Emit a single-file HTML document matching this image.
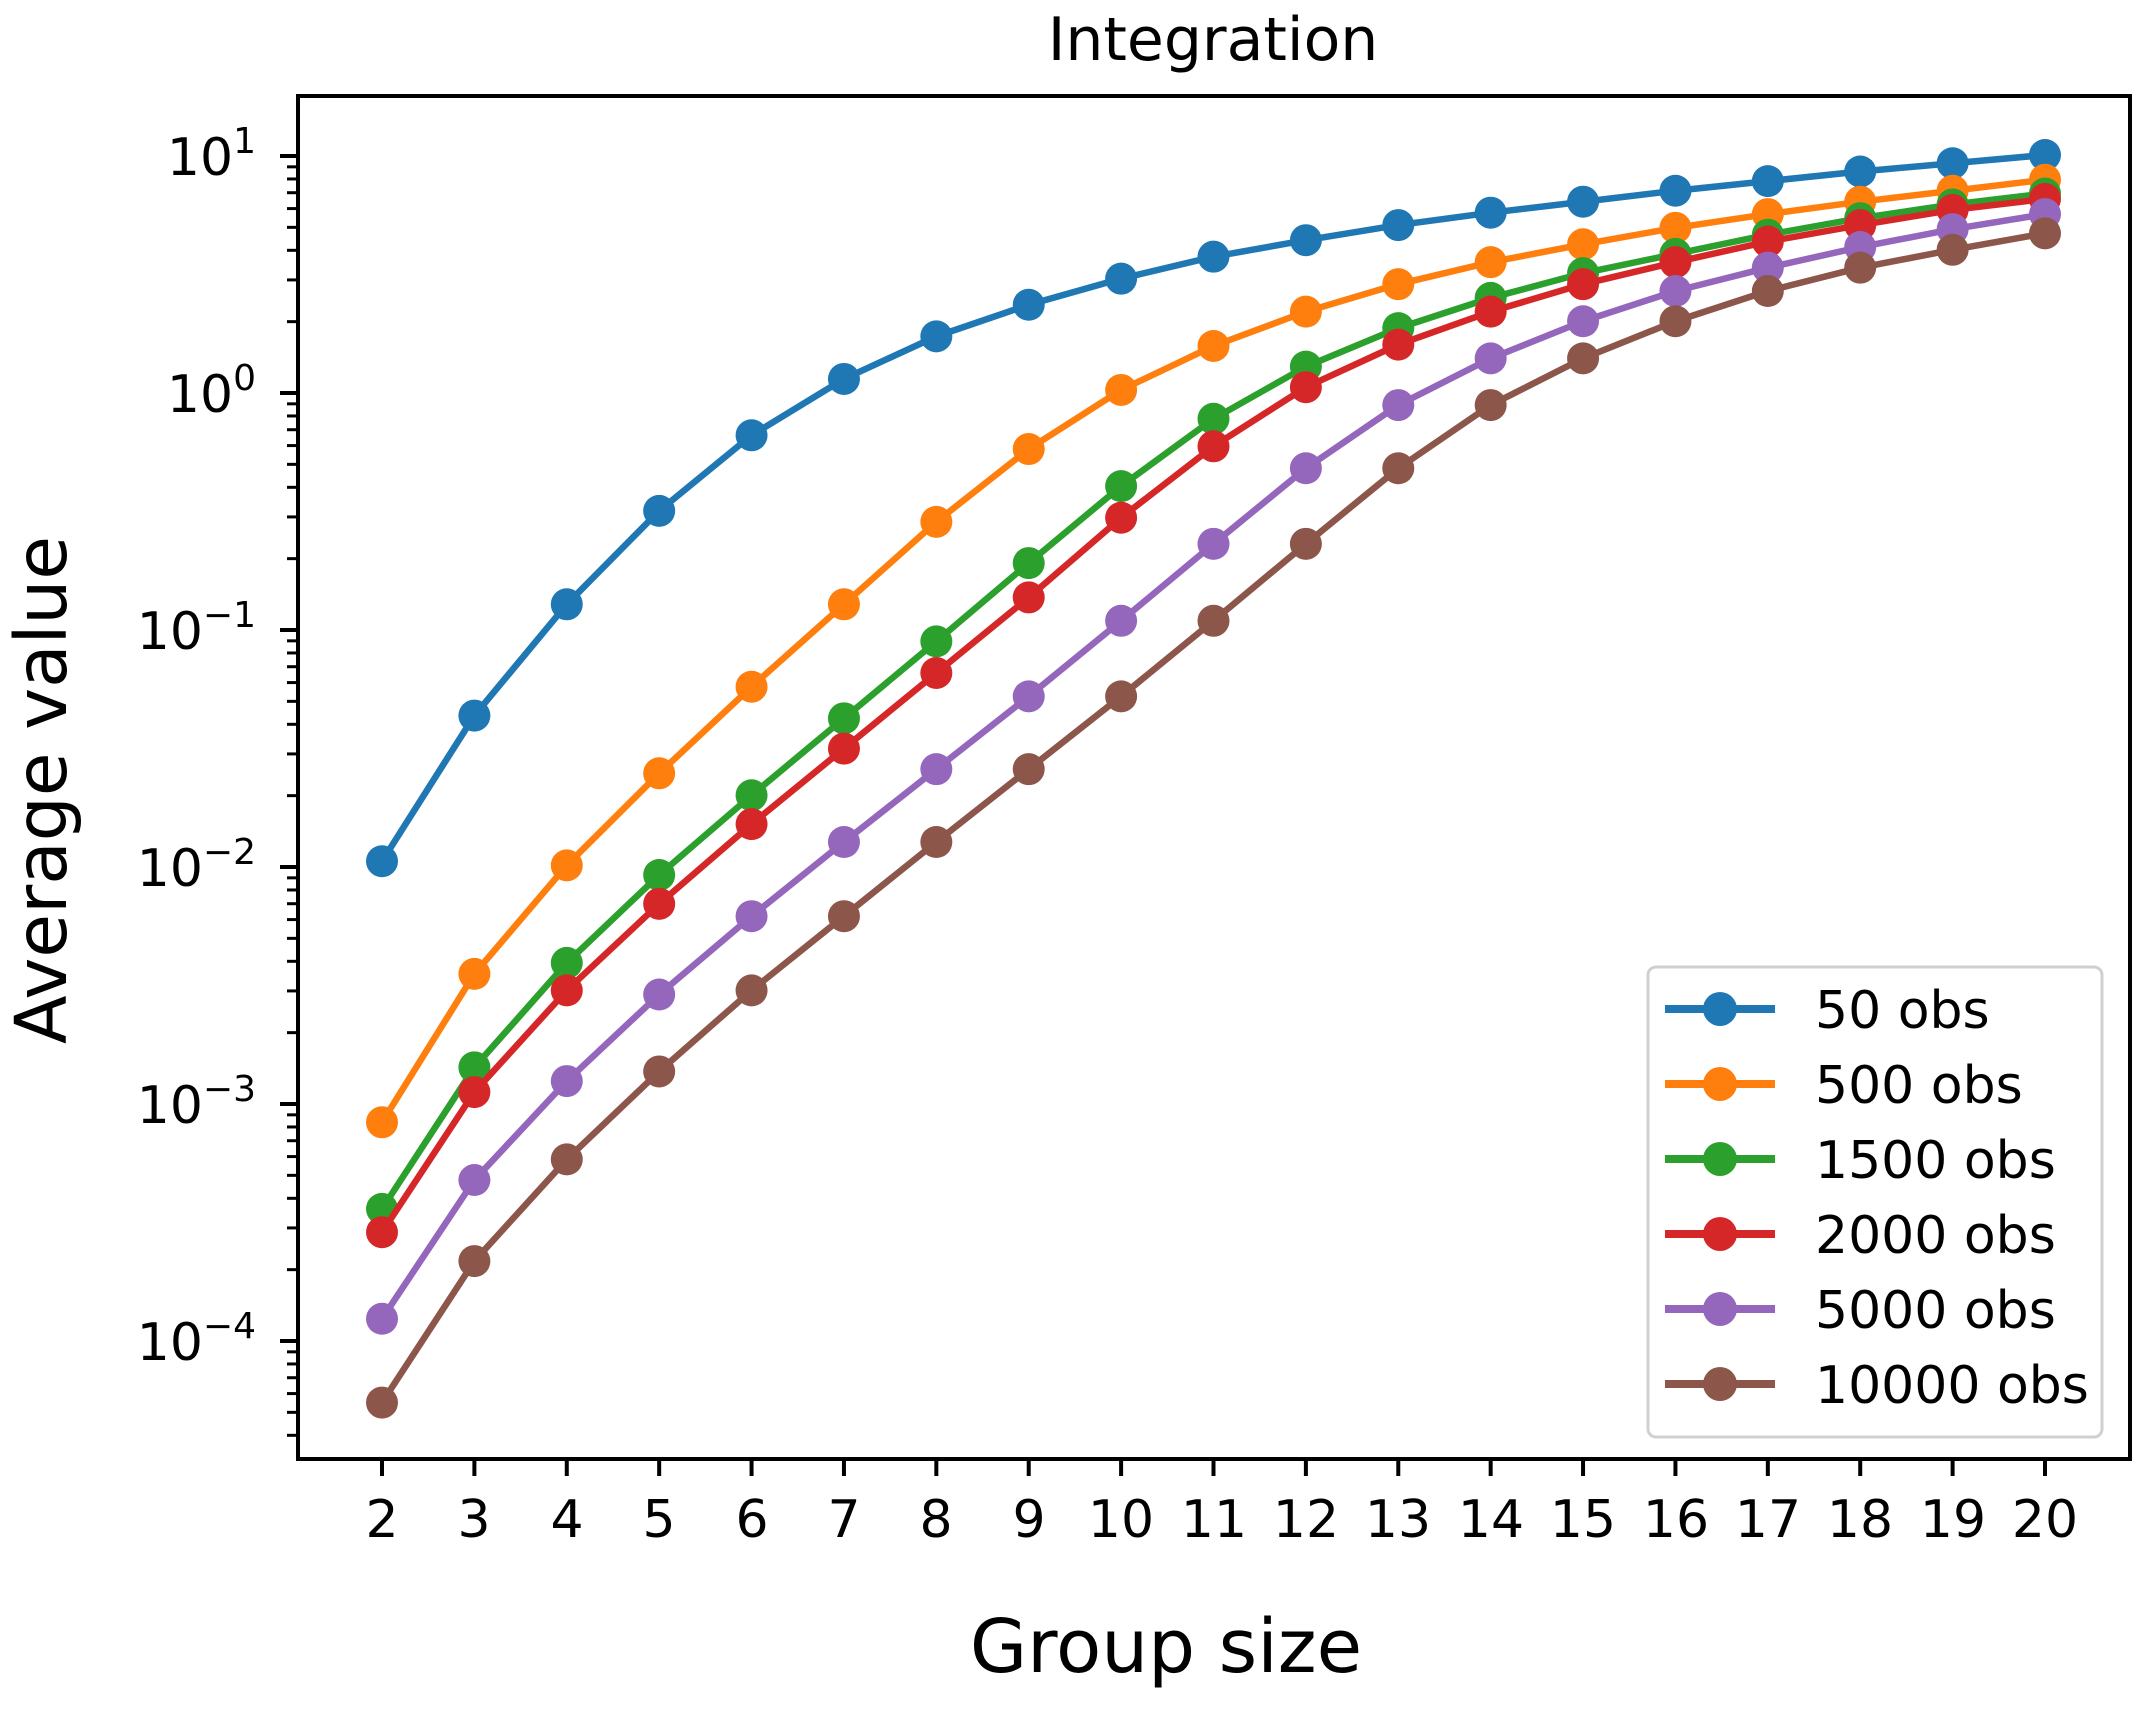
<!DOCTYPE html>
<html><head><meta charset="utf-8"><style>
html,body{margin:0;padding:0;background:#fff;}
svg{display:block;font-family:"DejaVu Sans","Liberation Sans",sans-serif;}
</style></head><body>
<svg id="s" width="2145" height="1710" viewBox="0 0 2145 1710" xmlns="http://www.w3.org/2000/svg">
<rect width="2145" height="1710" fill="#fff"/>
<g id="ticks" stroke="#000"></g>
<g id="series"></g>
<rect x="298" y="96" width="1832" height="1363" fill="none" stroke="#000" stroke-width="4"/>
<text x="1213" y="60" font-size="60" text-anchor="middle">Integration</text>
<text x="1166" y="1672" font-size="74" text-anchor="middle">Group size</text>
<text transform="translate(66,790) rotate(-90)" font-size="71" text-anchor="middle">Average value</text>
<g font-size="52" text-anchor="end">
<text x="256" y="175">10<tspan font-size="36" dy="-22">1</tspan></text>
<text x="256" y="412">10<tspan font-size="36" dy="-22">0</tspan></text>
<text x="256" y="649">10<tspan font-size="36" dy="-22">−1</tspan></text>
<text x="256" y="886">10<tspan font-size="36" dy="-22">−2</tspan></text>
<text x="256" y="1123">10<tspan font-size="36" dy="-22">−3</tspan></text>
<text x="256" y="1360">10<tspan font-size="36" dy="-22">−4</tspan></text>
</g>
<g font-size="52" text-anchor="middle">
<text x="382" y="1537">2</text><text x="474" y="1537">3</text><text x="567" y="1537">4</text><text x="659" y="1537">5</text><text x="752" y="1537">6</text><text x="844" y="1537">7</text><text x="936" y="1537">8</text><text x="1029" y="1537">9</text><text x="1121" y="1537">10</text><text x="1214" y="1537">11</text><text x="1306" y="1537">12</text><text x="1398" y="1537">13</text><text x="1491" y="1537">14</text><text x="1583" y="1537">15</text><text x="1676" y="1537">16</text><text x="1768" y="1537">17</text><text x="1860" y="1537">18</text><text x="1953" y="1537">19</text><text x="2045" y="1537">20</text>
</g>
<rect x="1648" y="967" width="454" height="470" rx="8" fill="#fff" fill-opacity="0.85" stroke="#d0d0d0" stroke-width="3"/>
<g id="leg"></g>
<g font-size="52">
<text x="1815" y="1028">50 obs</text>
<text x="1815" y="1103">500 obs</text>
<text x="1815" y="1178">1500 obs</text>
<text x="1815" y="1253">2000 obs</text>
<text x="1815" y="1328">5000 obs</text>
<text x="1815" y="1403">10000 obs</text>
</g>
</svg>
<script>
(function(){
var NS="http://www.w3.org/2000/svg";
function el(p,t,a){var e=document.createElementNS(NS,t);for(var k in a)e.setAttribute(k,a[k]);p.appendChild(e);return e;}
var tk=document.getElementById('ticks');
var X=function(i){return 382+(2045-382)*(i-2)/18;};
for(var i=2;i<=20;i++)el(tk,'line',{x1:X(i),x2:X(i),y1:1459,y2:1476,'stroke-width':4});
var y0=156,dec=237;
function Y(l){return y0+(1-l)*dec;}
for(var d=1;d>=-5;d--){
 if(d>=-4) el(tk,'line',{x1:280,x2:298,y1:Y(d),y2:Y(d),'stroke-width':4});
 for(var k=2;k<=9;k++){var y=Y(d+Math.log10(k));if(y>96&&y<1459)el(tk,'line',{x1:287,x2:298,y1:y,y2:y,'stroke-width':3});}
}
var data=[
["#1f77b4",[628,522,441,373,318,277,246,223,204,188,176,165,156,148,140,133,126,120,114]],
["#ff7f0e",[818,710,631,564,501,441,381,328,285,253,228,208,192,179,167,157,148,140,132]],
["#2ca02c",[881,778,702,638,580,524,468,411,355,306,268,240,218,200,186,172,160,150,142]],
["#d62728",[898,796,722,659,601,546,491,436,378,326,283,252,228,208,192,177,165,154,146]],
["#9467bd",[961,860,788,725,668,614,561,508,453,397,342,296,262,235,213,196,181,168,157]],
["#8c564b",[1022,919,845,781,722,668,614,561,508,453,397,342,296,262,235,213,196,183,171]]];
var g=document.getElementById('series'),lg=document.getElementById('leg');
data.forEach(function(s,j){
 var pts=s[1].map(function(v,i){return [X(i+2),155+(v-114)*1.374];});
 el(g,'polyline',{points:pts.map(function(p){return p.join(',')}).join(' '),fill:'none',stroke:s[0],'stroke-width':6.5,'stroke-linejoin':'round'});
 pts.forEach(function(p){el(g,'circle',{cx:p[0],cy:p[1],r:16,fill:s[0]});});
 var ly=1009+75*j;
 el(lg,'line',{x1:1665,x2:1775,y1:ly,y2:ly,stroke:s[0],'stroke-width':8});
 el(lg,'circle',{cx:1720,cy:ly,r:17,fill:s[0]});
});
})();
</script>
</body></html>
